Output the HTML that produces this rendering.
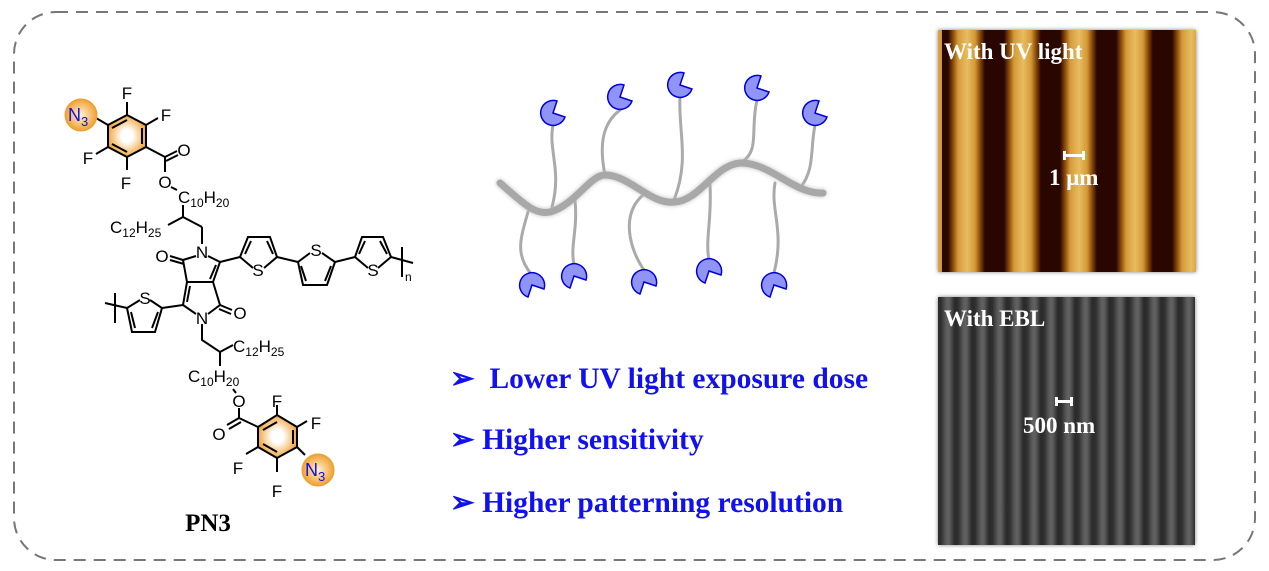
<!DOCTYPE html>
<html><head><meta charset="utf-8"><style>
html,body{margin:0;padding:0;background:#fff;}
body{width:1269px;height:571px;position:relative;overflow:hidden;font-family:"Liberation Serif",serif;}
.img{position:absolute;box-shadow:0 0 4px rgba(0,0,0,.5);}
#uv{left:938px;top:30px;width:258px;height:242px;background:
repeating-linear-gradient(90deg,#2a0600 0px,#2a0600 6px,#8a4a0a 11px,#d49a38 16px,#e8bc60 25px,#d49a38 33px,#8a4a0a 38px,#2a0600 43px,#2a0600 56px);
background-position:4px 0;}
#ebl{left:938px;top:297px;width:257px;height:248px;background:
repeating-linear-gradient(90deg,#2a2a2a 0px,#303030 3px,#5a5a5a 8px,#626262 10px,#5a5a5a 12px,#303030 16px,#2a2a2a 17.2px);}
.lab{position:absolute;color:#fff;font-weight:bold;font-size:23px;white-space:nowrap;}
.b{position:absolute;color:#1010f0;font-weight:bold;font-size:29.5px;white-space:nowrap;}
</style></head><body>
<svg width="1269" height="571" style="position:absolute;left:0;top:0">
<rect x="14" y="12" width="1241" height="548" rx="42" fill="none" stroke="#777" stroke-width="2" stroke-dasharray="12,8"/>
<defs>
<radialGradient id="og"><stop offset="0" stop-color="#fff2d8"/><stop offset="1" stop-color="#f0a030"/></radialGradient>
<radialGradient id="bg"><stop offset="0.3" stop-color="#fff"/><stop offset="1" stop-color="#f2a640"/></radialGradient>
</defs>
<g stroke="#000" stroke-width="2" fill="none">
<polygon points="127,115 146,125 146,147 127,157 108,147 108,125" fill="url(#bg)" stroke="#000"/>
<polyline points="142,128 142,144"/><polyline points="112,144 127,152"/><polyline points="112,128 127,120"/>
<line x1="127" y1="115" x2="127" y2="102"/><line x1="146" y1="125" x2="158" y2="118"/>
<line x1="108" y1="147" x2="96" y2="154"/><line x1="127" y1="157" x2="127" y2="170"/>
<line x1="108" y1="125" x2="96" y2="118"/>
<line x1="146" y1="147" x2="165" y2="157"/><line x1="165" y1="157" x2="177" y2="151"/><line x1="166" y1="161" x2="178" y2="155"/>
<line x1="165" y1="157" x2="165" y2="172"/><line x1="171" y1="187" x2="177" y2="190"/>
<line x1="183" y1="205" x2="183" y2="217"/><line x1="183" y1="217" x2="168" y2="225"/>
<line x1="183" y1="217" x2="202" y2="227"/><line x1="202" y1="227" x2="202" y2="244"/>
<polyline points="208,256 220,262 213,282 187,282 183,260 196,256"/>
<line x1="216" y1="265" x2="210" y2="279"/>
<line x1="183" y1="260" x2="170" y2="256"/><line x1="184" y1="264" x2="170" y2="260"/>
<polyline points="187,282 183,305 196,314"/><polyline points="213,282 220,305 208,314"/>
<line x1="190" y1="286" x2="187" y2="302"/>
<line x1="220" y1="305" x2="232" y2="310"/><line x1="219" y1="309" x2="231" y2="314"/>
<line x1="220" y1="262" x2="240" y2="257"/>
<polyline points="253,268 240,257 248,237 270,237 277,257 264,268"/>
<line x1="251" y1="241" x2="245" y2="254"/><line x1="267" y1="241" x2="273" y2="254"/>
<line x1="277" y1="257" x2="298" y2="262"/>
<polyline points="310,253 298,262 303,285 327,285 335,262 322,253"/>
<line x1="301" y1="266" x2="306" y2="281"/><line x1="331" y1="266" x2="325" y2="281"/>
<line x1="335" y1="262" x2="355" y2="257"/>
<polyline points="368,268 355,257 362,237 383,237 391,257 378,268"/>
<line x1="365" y1="241" x2="359" y2="254"/><line x1="380" y1="241" x2="387" y2="254"/>
<line x1="391" y1="257" x2="413" y2="263"/><line x1="402" y1="247" x2="402" y2="277"/>
<line x1="183" y1="305" x2="162" y2="308"/>
<polyline points="150,300 162,308 155,332 132,332 127,308 140,300"/>
<line x1="158" y1="312" x2="152" y2="328"/><line x1="131" y1="312" x2="135" y2="328"/>
<line x1="127" y1="308" x2="105" y2="303"/><line x1="115" y1="293" x2="115" y2="323"/>
<polyline points="202,324 202,340 220,352 233,345"/><line x1="220" y1="352" x2="220" y2="366"/>
<line x1="233" y1="389" x2="236" y2="393"/>
<line x1="239" y1="408" x2="239" y2="418"/><line x1="239" y1="418" x2="227" y2="425"/><line x1="241" y1="422" x2="229" y2="429"/>
<line x1="239" y1="418" x2="258" y2="427"/>
<polygon points="258,427 277,415 297,427 297,447 277,458 258,447" fill="url(#bg)" stroke="#000"/>
<polyline points="263,430 277,422"/><polyline points="293,430 293,444"/><polyline points="263,444 277,452"/>
<line x1="277" y1="415" x2="277" y2="405"/><line x1="297" y1="427" x2="307" y2="421"/>
<line x1="258" y1="447" x2="246" y2="454"/><line x1="277" y1="458" x2="277" y2="472"/><line x1="297" y1="447" x2="305" y2="455"/>
</g>
<circle cx="81" cy="115" r="16" fill="url(#og)" stroke="#e8a030"/>
<circle cx="318" cy="470" r="16" fill="url(#og)" stroke="#e8a030"/>
<g font-family="Liberation Sans,sans-serif" font-size="17" fill="#000" text-anchor="middle">
<text x="127" y="99">F</text><text x="166" y="121">F</text><text x="88" y="164">F</text><text x="126" y="189">F</text>
<text x="184" y="156">O</text><text x="165" y="188">O</text>
<text x="202" y="258">N</text><text x="162" y="262">O</text><text x="240" y="319">O</text><text x="202" y="324">N</text>
<text x="258" y="276">S</text><text x="316" y="256">S</text><text x="373" y="276">S</text><text x="145" y="304">S</text>
<text x="239" y="407">O</text><text x="219" y="440">O</text>
<text x="277" y="407">F</text><text x="316" y="429">F</text><text x="238" y="474">F</text><text x="277" y="497">F</text>
</g>
<g font-family="Liberation Sans,sans-serif" fill="#1010e0">
<text x="68" y="121" font-size="18">N<tspan font-size="13" dy="5">3</tspan></text>
<text x="305" y="476" font-size="18">N<tspan font-size="13" dy="5">3</tspan></text>
</g>
<g font-family="Liberation Sans,sans-serif" font-size="17" fill="#000">
<text x="178" y="203">C<tspan font-size="12" dy="4">10</tspan><tspan dy="-4">H</tspan><tspan font-size="12" dy="4">20</tspan></text>
<text x="110" y="233">C<tspan font-size="12" dy="4">12</tspan><tspan dy="-4">H</tspan><tspan font-size="12" dy="4">25</tspan></text>
<text x="233" y="352">C<tspan font-size="12" dy="4">12</tspan><tspan dy="-4">H</tspan><tspan font-size="12" dy="4">25</tspan></text>
<text x="188" y="382">C<tspan font-size="12" dy="4">10</tspan><tspan dy="-4">H</tspan><tspan font-size="12" dy="4">20</tspan></text>
<text x="405" y="281" font-size="12">n</text>
</g>
<text x="208" y="531" text-anchor="middle" font-family="Liberation Serif,serif" font-weight="bold" font-size="25">PN3</text>
<g stroke="#aaa" stroke-width="3" fill="none" stroke-linecap="round">
<path d="M553,125 C548,150 562,170 552,207"/>
<path d="M620,110 C600,125 600,150 605,175"/>
<path d="M680,97 C678,130 690,160 674,200"/>
<path d="M757,100 C750,130 760,150 742,162"/>
<path d="M815,125 C810,150 815,170 800,188"/>
<path d="M528,212 C520,240 515,255 532,275"/>
<path d="M575,200 C578,230 570,245 574,265"/>
<path d="M643,195 C620,215 630,250 644,270"/>
<path d="M710,185 C712,220 705,240 709,260"/>
<path d="M775,183 C770,210 785,230 774,273"/>
</g>
<path d="M500,183 C525,205 535,215 550,212 C575,205 590,175 605,175 C630,175 650,205 675,202 C700,200 715,165 740,163 C770,162 795,195 823,193" stroke="#a8a8a8" stroke-width="7" fill="none" stroke-linecap="round" style="filter:drop-shadow(0 0 2px #bbb)"/>
<g fill="#8f94f5" stroke="#0000dd" stroke-width="1.5">
<path d="M553,113 L565,117 A12.5,12.5 0 1 1 557,101 Z"/>
<path d="M620,97 L632,101 A12.5,12.5 0 1 1 624,85 Z"/>
<path d="M680,85 L692,89 A12.5,12.5 0 1 1 684,73 Z"/>
<path d="M757,88 L769,92 A12.5,12.5 0 1 1 761,76 Z"/>
<path d="M815,113 L827,117 A12.5,12.5 0 1 1 819,101 Z"/>
<path d="M532,285 L528,297 A12.5,12.5 0 1 1 544,289 Z"/>
<path d="M574,276 L570,288 A12.5,12.5 0 1 1 586,280 Z"/>
<path d="M644,282 L640,294 A12.5,12.5 0 1 1 656,286 Z"/>
<path d="M709,271 L705,283 A12.5,12.5 0 1 1 721,275 Z"/>
<path d="M774,285 L770,297 A12.5,12.5 0 1 1 786,289 Z"/>
</g>
</svg>
<div class="b" style="left:450px;top:361px">➢ &nbsp;Lower UV light exposure dose</div>
<div class="b" style="left:450px;top:422px">➢ Higher sensitivity</div>
<div class="b" style="left:450px;top:485px">➢ Higher patterning resolution</div>
<div class="img" id="uv"></div>
<div class="img" id="ebl"></div>
<div class="lab" style="left:944px;top:39px">With UV light</div>
<div class="lab" style="left:944px;top:306px">With EBL</div>
<div style="position:absolute;left:1063px;top:151px;width:22px;height:9px;border-left:3px solid #fff;border-right:3px solid #fff;box-sizing:border-box"><div style="height:3px;background:#fff;margin-top:3px"></div></div>
<div class="lab" style="left:1049px;top:165px">1 μm</div>
<div style="position:absolute;left:1055px;top:397px;width:18px;height:9px;border-left:3px solid #fff;border-right:3px solid #fff;box-sizing:border-box"><div style="height:3px;background:#fff;margin-top:3px"></div></div>
<div class="lab" style="left:1023px;top:413px">500 nm</div>
</body></html>
